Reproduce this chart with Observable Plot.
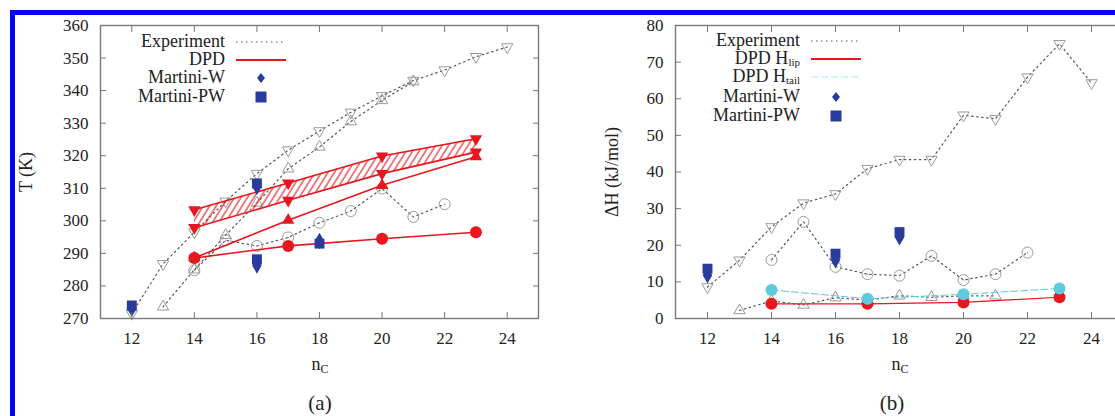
<!DOCTYPE html>
<html><head><meta charset="utf-8">
<script src="https://cdn.jsdelivr.net/npm/d3@7"></script>
<script src="https://cdn.jsdelivr.net/npm/@observablehq/plot@0.6"></script>
<style>
html,body{margin:0;padding:0;background:#fff;width:1115px;height:416px;overflow:hidden;font-family:"Liberation Serif","Times New Roman","DejaVu Serif",serif;}
#wrap{position:relative;width:1115px;height:416px;overflow:hidden;}
#border{position:absolute;left:10px;top:10px;width:1200px;height:500px;border-top:5px solid #0505f5;border-left:5px solid #0505f5;z-index:10;pointer-events:none;}
.plot{position:absolute;top:0;}
.txt{position:absolute;color:#222;white-space:nowrap;line-height:20px;}
.leg{line-height:15px;}
.ctr{transform:translate(-50%,-50%);}
.rot{transform:translate(-50%,-50%) rotate(-90deg);}
sub{font-size:12px;vertical-align:-3px;line-height:0;}
.leg sub{font-size:11px;vertical-align:-2px;}
</style>
</head><body><div id="wrap"></div>
<script>
// ---------- data ----------
const nCTicks = [12, 14, 16, 18, 20, 22, 24];
const tTicks = [270, 280, 290, 300, 310, 320, 330, 340, 350, 360];
const hTicks = [0, 10, 20, 30, 40, 50, 60, 70, 80];

// Panel (a): T (K)
const expDownN = [12, 13, 14, 15, 16, 17, 18, 19, 20, 21, 22, 23, 24];
const expDownT = [271.5, 286.8, 296.5, 306, 314.5, 321.7, 327.6, 333.3, 338.4, 343.1, 346.3, 350.4, 353.4];
const expUpN = [13, 14, 15, 16, 17, 18, 19, 20, 21];
const expUpT = [273.6, 285, 295.6, 305.5, 316, 322.7, 330.5, 337, 342.8];
const expCircN = [14, 15, 16, 17, 18, 19, 20, 21, 22];
const expCircT = [284.8, 294, 292.3, 294.9, 299.4, 303, 309.9, 301.2, 305.1];
const dpdN = [14, 17, 20, 23];
const dpdBandHi = [303.4, 311.6, 319.9, 325.2];
const dpdBandLo = [297.9, 306.3, 314.5, 321.1];
const dpdUpT = [288.6, 300.2, 310.9, 319.7];
const dpdCircT = [288.6, 292.3, 294.5, 296.5];
const martNa = [12, 16, 16, 18];
const martWa = [273, 310.5, 286.3, 293.8];
const martPWa = [274, 311.5, 288.2, 293];

// Panel (b): ΔH (kJ/mol)
const hDownN = [12, 13, 14, 15, 16, 17, 18, 19, 20, 21, 22, 23, 24];
const hDown = [8.6, 15.9, 25, 31.5, 34, 40.9, 43.4, 43.4, 55.5, 54.5, 65.9, 75, 64.3];
const hCircN = [14, 15, 16, 17, 18, 19, 20, 21, 22];
const hCirc = [16, 26.4, 14.1, 12.1, 11.7, 17.1, 10.5, 12.1, 18];
const hUpN = [13, 14, 15, 16, 17, 18, 19, 20, 21];
const hUp = [2.2, 4.8, 3.7, 5.7, 5, 6.2, 5.8, 6.2, 6.2];
const hLip = [4.0, 4.0, 4.4, 5.8];
const hTail = [7.8, 5.4, 6.6, 8.2];
const martNb = [12, 16, 18];
const martWb = [11.8, 16, 22.2];
const martPWb = [13.6, 17.7, 23.6];

// ---------- styles ----------
const RED = "#e8161e", BLUE = "#2a3b9e", CYAN = "#5ccbdb", GREY = "#9a9a9a", DOTLINE = "#555";
const rows = (xs, ys) => xs.map((x, i) => ({x, y: ys[i]}));
const triDown = {draw(ctx, size) {
  const s = Math.sqrt(size / (Math.sqrt(3) / 4)), h = s * Math.sqrt(3) / 2;
  ctx.moveTo(-s / 2, -h / 3); ctx.lineTo(s / 2, -h / 3); ctx.lineTo(0, 2 * h / 3); ctx.closePath();
}};
const triUp = {draw(ctx, size) {
  const s = Math.sqrt(size / (Math.sqrt(3) / 4)), h = s * Math.sqrt(3) / 2;
  ctx.moveTo(-s / 2, h / 3); ctx.lineTo(s / 2, h / 3); ctx.lineTo(0, -2 * h / 3); ctx.closePath();
}};
const dotted = {stroke: DOTLINE, strokeWidth: 1.2, strokeDasharray: "1.5,3.5"};

function expMarks(down, up, circ) {
  return [
    Plot.line(down, {x: "x", y: "y", ...dotted}),
    Plot.line(up, {x: "x", y: "y", ...dotted}),
    Plot.line(circ, {x: "x", y: "y", ...dotted}),
    Plot.dot(down, {x: "x", y: "y", symbol: triDown, r: 4.2, stroke: GREY, fill: "none", strokeWidth: 1}),
    Plot.dot(up, {x: "x", y: "y", symbol: triUp, r: 4.2, stroke: GREY, fill: "none", strokeWidth: 1}),
    Plot.dot(circ, {x: "x", y: "y", r: 5.5, stroke: GREY, fill: "none", strokeWidth: 1}),
    Plot.dot(circ, {x: "x", y: "y", r: 0.8, fill: GREY, stroke: "none"})
  ];
}

function martMarks(xs, w, pw) {
  return [
    Plot.dot(rows(xs, pw), {x: "x", y: "y", symbol: "square", r: 5.6, fill: BLUE, stroke: "none"}),
    Plot.dot(rows(xs, w), {x: "x", y: "y", symbol: "diamond", r: 5, fill: BLUE, stroke: "none"})
  ];
}

function frameMarks(yTicks) {
  const tk = {stroke: "#777", strokeWidth: 1, label: null, tickFormat: () => ""};
  return [
    Plot.frame({stroke: "#7a7a7a", strokeWidth: 1.4}),
    Plot.axisX(nCTicks, {anchor: "bottom", tickSize: -6, ...tk}),
    Plot.axisX(nCTicks, {anchor: "top", tickSize: -6, ...tk}),
    Plot.axisY(yTicks, {anchor: "left", tickSize: -6, ...tk}),
    Plot.axisY(yTicks, {anchor: "right", tickSize: -6, ...tk}),
    Plot.axisX(nCTicks, {anchor: "bottom", tickSize: 0, tickPadding: 13, label: null, fill: "#222"}),
    Plot.axisY(yTicks, {anchor: "left", tickSize: 0, tickPadding: 12, label: null, fill: "#222"})
  ];
}

function makePlot({left, width, mL, mR, yDomain, yTicks, marks}) {
  const svg = Plot.plot({
    width, height: 416,
    marginLeft: mL, marginRight: mR, marginTop: 25, marginBottom: 98,
    x: {domain: [11, 25]},
    y: {domain: yDomain},
    style: {fontFamily: "'Liberation Serif', 'Times New Roman', serif", fontSize: "17px", color: "#222", background: "none", overflow: "visible"},
    marks: [...marks, ...frameMarks(yTicks)]
  });
  svg.classList.add("plot");
  svg.style.left = left + "px";
  return svg;
}

function addHatch(svg, id) {
  const p = d3.select(svg).insert("defs", ":first-child").append("pattern")
    .attr("id", id).attr("patternUnits", "userSpaceOnUse")
    .attr("width", 5.5).attr("height", 10).attr("patternTransform", "rotate(32)");
  p.append("line").attr("x1", 1).attr("y1", 0).attr("x2", 1).attr("y2", 10)
    .attr("stroke", RED).attr("stroke-width", 1.1);
}

// ---------- panel (a) ----------
const band = dpdN.map((x, i) => ({x, lo: dpdBandLo[i], hi: dpdBandHi[i]}));
const plotA = makePlot({
  left: 0, width: 560, mL: 100, mR: 22, yDomain: [270, 360], yTicks: tTicks,
  marks: [
    ...expMarks(rows(expDownN, expDownT), rows(expUpN, expUpT), rows(expCircN, expCircT)),
    Plot.areaY(band, {x: "x", y1: "lo", y2: "hi", fill: "url(#hatchA)"}),
    Plot.line(band, {x: "x", y: "hi", stroke: RED, strokeWidth: 1.6}),
    Plot.line(band, {x: "x", y: "lo", stroke: RED, strokeWidth: 1.6}),
    Plot.line(rows(dpdN, dpdUpT), {x: "x", y: "y", stroke: RED, strokeWidth: 1.6}),
    Plot.line(rows(dpdN, dpdCircT), {x: "x", y: "y", stroke: RED, strokeWidth: 1.6}),
    Plot.dot(band, {x: "x", y: "hi", symbol: triDown, r: 4.6, fill: RED, stroke: "none"}),
    Plot.dot(band, {x: "x", y: "lo", symbol: triDown, r: 4.6, fill: RED, stroke: "none"}),
    Plot.dot(rows(dpdN, dpdUpT), {x: "x", y: "y", symbol: triUp, r: 4.6, fill: RED, stroke: "none"}),
    Plot.dot(rows(dpdN, dpdCircT), {x: "x", y: "y", r: 6, fill: RED, stroke: "none"}),
    ...martMarks(martNa, martWa, martPWa)
  ]
});
addHatch(plotA, "hatchA");

// ---------- panel (b) ----------
const plotB = makePlot({
  left: 560, width: 575, mL: 115, mR: 12, yDomain: [0, 80], yTicks: hTicks,
  marks: [
    ...expMarks(rows(hDownN, hDown), rows(hUpN, hUp), rows(hCircN, hCirc)),
    Plot.line(rows(dpdN, hTail), {x: "x", y: "y", stroke: CYAN, strokeWidth: 1, strokeDasharray: "7,3"}),
    Plot.line(rows(dpdN, hLip), {x: "x", y: "y", stroke: RED, strokeWidth: 1.2}),
    Plot.dot(rows(dpdN, hLip), {x: "x", y: "y", r: 6, fill: RED, stroke: "none"}),
    Plot.dot(rows(dpdN, hTail), {x: "x", y: "y", r: 6, fill: CYAN, stroke: "none"}),
    ...martMarks(martNb, martWb, martPWb)
  ]
});

const wrap = document.getElementById("wrap");
wrap.appendChild(plotA);
wrap.appendChild(plotB);

// ---------- text & legends (HTML) ----------
function addText(html, x, y, size, cls) {
  const d = document.createElement("div");
  d.className = "txt " + cls;
  d.style.left = x + "px"; d.style.top = y + "px"; d.style.fontSize = size + "px";
  d.innerHTML = html;
  wrap.appendChild(d);
}
addText("T (K)", 26, 172, 18, "rot");
addText("ΔH (kJ/mol)", 612, 172, 18, "rot");
addText("n<sub>C</sub>", 320, 364, 18, "ctr");
addText("n<sub>C</sub>", 900, 364, 18, "ctr");
addText("(a)", 320, 403, 21, "ctr");
addText("(b)", 892, 403, 21, "ctr");

function sampleSVG(kind) {
  const ns = "http://www.w3.org/2000/svg";
  const s = document.createElementNS(ns, "svg");
  s.setAttribute("width", 52); s.setAttribute("height", 14);
  let el;
  if (kind === "exp" || kind === "red" || kind === "cyan") {
    el = document.createElementNS(ns, "line");
    el.setAttribute("x1", 1); el.setAttribute("x2", 51); el.setAttribute("y1", 7); el.setAttribute("y2", 7);
    if (kind === "exp") { el.setAttribute("stroke", DOTLINE); el.setAttribute("stroke-width", 1.2); el.setAttribute("stroke-dasharray", "1.5,3.5"); }
    if (kind === "red") { el.setAttribute("stroke", RED); el.setAttribute("stroke-width", 1.8); }
    if (kind === "cyan") { el.setAttribute("stroke", "#a8e6ee"); el.setAttribute("stroke-width", 1); el.setAttribute("stroke-dasharray", "7,3"); }
  } else if (kind === "diamond") {
    el = document.createElementNS(ns, "path");
    el.setAttribute("d", "M26,2 L30,7 L26,12 L22,7 Z"); el.setAttribute("fill", BLUE);
  } else {
    el = document.createElementNS(ns, "rect");
    el.setAttribute("x", 20.5); el.setAttribute("y", 1.5); el.setAttribute("width", 11); el.setAttribute("height", 11); el.setAttribute("fill", BLUE);
  }
  s.appendChild(el);
  return s;
}
function addLegend(rightX, ys, entries) {
  entries.forEach(([html, kind], i) => {
    const t = document.createElement("div");
    t.className = "txt leg";
    t.style.right = (1115 - rightX) + "px";
    t.style.top = (ys[i] - 8) + "px";
    t.style.fontSize = "18px";
    t.style.textAlign = "right";
    t.innerHTML = html;
    wrap.appendChild(t);
    const s = sampleSVG(kind);
    s.style.position = "absolute";
    s.style.left = (rightX + 10) + "px";
    s.style.top = (ys[i] - 7) + "px";
    wrap.appendChild(s);
  });
}
addLegend(225, [42, 60, 78, 97], [
  ["Experiment", "exp"], ["DPD", "red"], ["Martini-W", "diamond"], ["Martini-PW", "square"]
]);
addLegend(800, [41, 59, 77, 97, 116], [
  ["Experiment", "exp"], ["DPD H<sub>lip</sub>", "red"], ["DPD H<sub>tail</sub>", "cyan"],
  ["Martini-W", "diamond"], ["Martini-PW", "square"]
]);

const b = document.createElement("div");
b.id = "border";
wrap.appendChild(b);
</script>
</body></html>
